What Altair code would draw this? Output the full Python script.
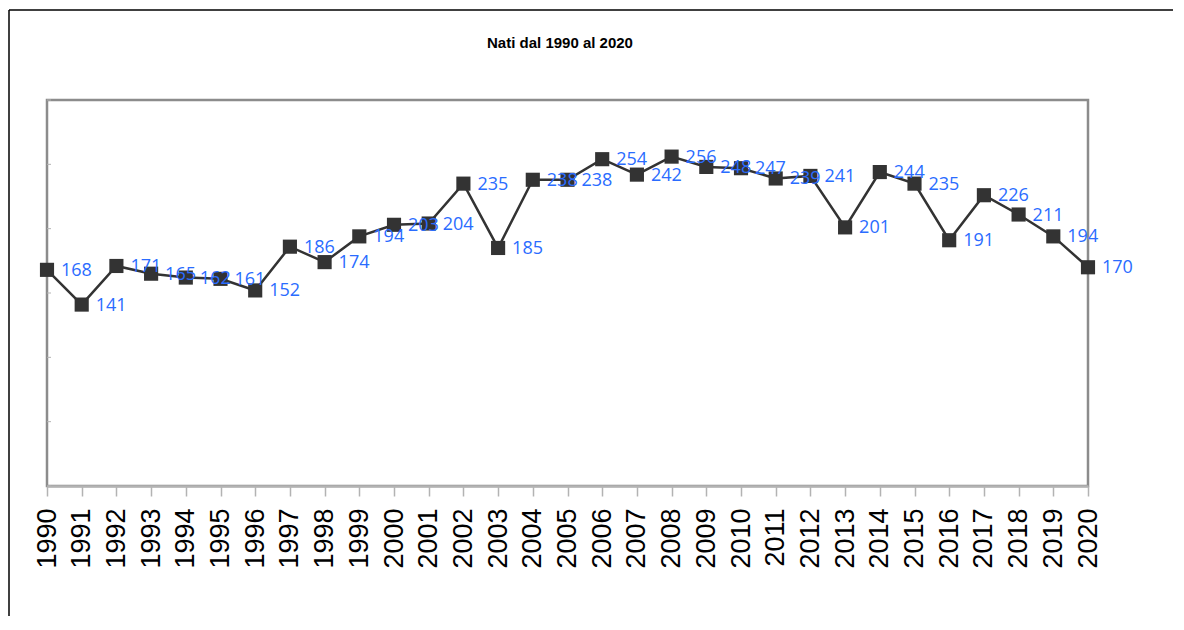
import altair as alt
import pandas as pd

years = [str(y) for y in range(1990, 2021)]
births = [168, 141, 171, 165, 162, 161, 152, 186, 174, 194, 203, 204, 235, 185,
          238, 238, 254, 242, 256, 248, 247, 239, 241, 201, 244, 235, 191, 226,
          211, 194, 170]
y_ticks = [0, 50, 100, 150, 200, 250, 300]
title_text = ["Nati dal 1990 al 2020"]

df = pd.DataFrame({"anno": years, "nati": births})
ticks_df = pd.DataFrame({"v": y_ticks})
title_df = pd.DataFrame({"t": title_text})

W, H = 1041, 386

x_enc = alt.X("anno:O", scale=alt.Scale(type="point", padding=0),
              axis=alt.Axis(title=None, labelAngle=270, labelFontSize=27,
                            labelFont="Liberation Sans", labelColor="#000000",
                            labelPadding=12, tickSize=10, tickColor="#b3b3b3",
                            tickWidth=1.5, domainColor="#b3b3b3", domainWidth=2.5,
                            labelBaseline="middle", labelAlign="right"))
y_enc = alt.Y("nati:Q", scale=alt.Scale(domain=[0, 300], nice=False),
              axis=alt.Axis(title=None, labels=False, ticks=False, domain=False,
                            grid=False, values=y_ticks))

base = alt.Chart(df)

line = base.mark_line(color="#333333", strokeWidth=2.5).encode(x=x_enc, y=y_enc)
points = base.mark_square(color="#333333", size=200, opacity=1).encode(x=x_enc, y=y_enc)
labels = base.mark_text(align="left", baseline="middle", dx=14, dy=1,
                        font="Open Sans", fontSize=18, color="#2a6cff").encode(
    x=x_enc, y=y_enc, text="nati:Q")

yticks = alt.Chart(ticks_df).mark_rule(color="#b3b3b3", strokeWidth=1).encode(
    y=alt.Y("v:Q", scale=alt.Scale(domain=[0, 300], nice=False), axis=None),
    x=alt.value(0), x2=alt.value(4))

frame_top = alt.Chart(title_df).mark_rule(color="#000000", strokeWidth=1.5).encode(
    x=alt.value(-38), x2=alt.value(1200), y=alt.value(-90))
frame_left = alt.Chart(title_df).mark_rule(color="#000000", strokeWidth=1.5).encode(
    x=alt.value(-38), y=alt.value(-90), y2=alt.value(700))

title = alt.Chart(title_df).mark_text(font="Liberation Sans", fontSize=15,
                                      fontWeight="bold", color="#000000",
                                      align="center", baseline="middle").encode(
    text="t:N", x=alt.value(513), y=alt.value(-57))

chart = alt.layer(frame_top, frame_left, yticks, line, points, labels, title).properties(
    width=W, height=H,
    autosize=alt.AutoSizeParams(type="none"),
    padding={"left": 39, "top": 92, "right": 85, "bottom": 130},
).configure(background="white").configure_view(stroke="#8c8c8c", strokeWidth=2.5)

chart.save("out.html", embed_options={"renderer": "svg", "actions": False})
